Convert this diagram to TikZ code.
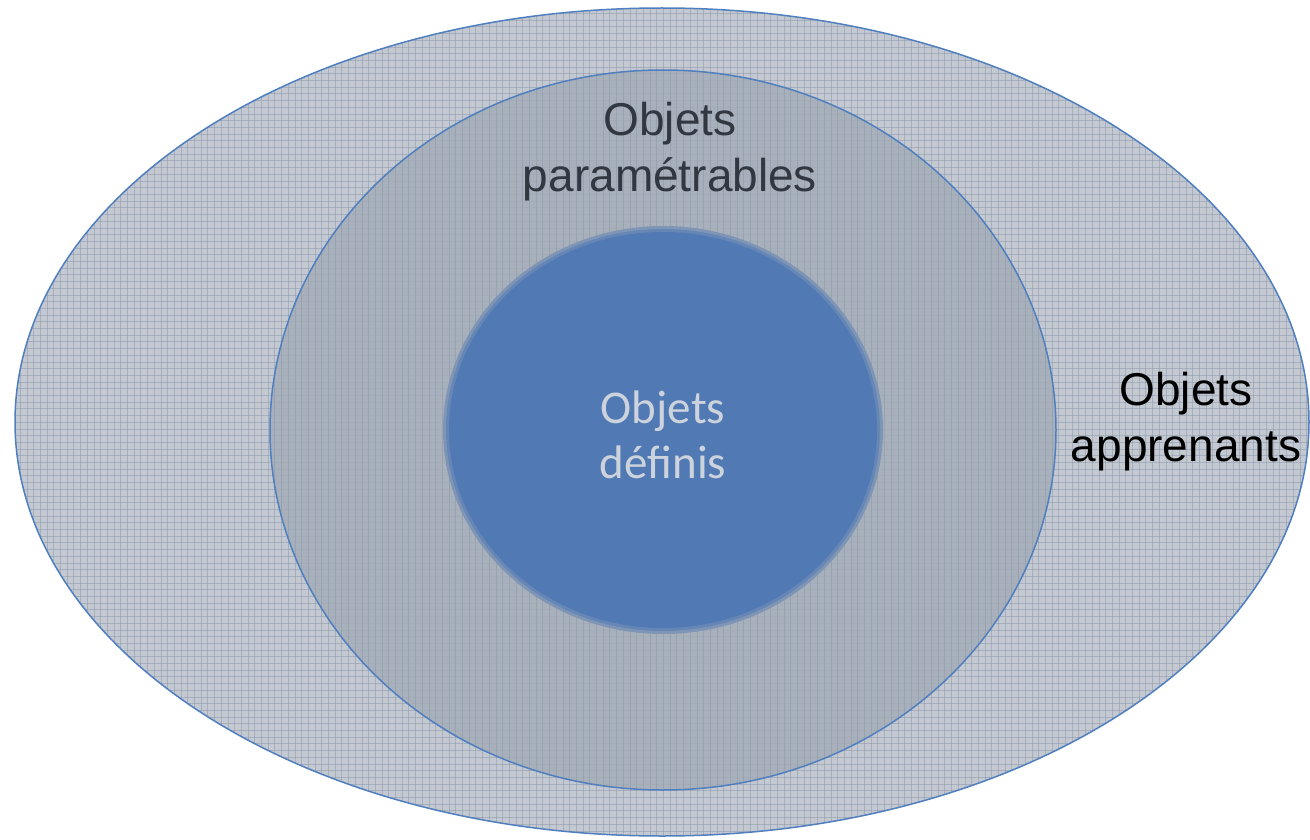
\documentclass[tikz,border=0pt]{standalone}
\usepackage{fontspec}
\usetikzlibrary{shapes.geometric}
\setmainfont{Liberation Sans}
\newfontfamily\calib{Carlito}
\begin{document}
\begin{tikzpicture}[x=1pt,y=-1pt,
  ring/.style={draw=edgeblue, line width=1.5pt},
  gridlines/.style={draw=gridcol, line width=0.6pt, opacity=0.55},
  labeltext/.style={align=center, font=\fontsize{46}{56}\selectfont, inner sep=0pt}]
\definecolor{edgeblue}{HTML}{4F7FBF}
\definecolor{outerfill}{HTML}{C4C9D1}
\definecolor{midfill}{HTML}{A4ACB8}
\definecolor{innerfill}{HTML}{5179B4}
\definecolor{gridcol}{HTML}{8E9AAE}
\definecolor{darktext}{HTML}{323842}
\definecolor{lighttext}{HTML}{CDD3DC}
\useasboundingbox (0,0) rectangle (1310,840);
% outer ellipse
\fill[outerfill] (662,422) ellipse [x radius=647, y radius=414];
\begin{scope}
  \clip (662,422) ellipse [x radius=647, y radius=414];
  \foreach \i in {0,...,196} {
    \draw[gridlines] (\i*6.7,0) -- (\i*6.7,840);
  }
  \foreach \j in {0,...,126} {
    \draw[gridlines] (0,\j*6.7) -- (1310,\j*6.7);
  }
\end{scope}
\node[ring, ellipse, minimum width=1294pt, minimum height=828pt, inner sep=0pt] (outer) at (662,422) {};
% middle ellipse
\fill[midfill, opacity=0.85] (663,430) ellipse [x radius=393, y radius=360];
\begin{scope}
  \clip (663,430) ellipse [x radius=393, y radius=360];
  \foreach \i in {0,...,196} {
    \draw[gridlines] (\i*6.7,0) -- (\i*6.7,840);
  }
\end{scope}
\node[ring, ellipse, minimum width=786pt, minimum height=720pt, inner sep=0pt] (mid) at (663,430) {};
% inner ellipse with soft edge
\fill[innerfill!45!midfill] (663,430) ellipse [x radius=220, y radius=204];
\fill[innerfill!75!midfill] (663,430) ellipse [x radius=217, y radius=201];
\node[fill=innerfill, ellipse, minimum width=428pt, minimum height=396pt, inner sep=0pt] (inner) at (663,430) {};
% labels
\node[labeltext, text=darktext] (lblpar) at (670,152) {Objets\\param\'etrables};
\node[labeltext, text=lighttext, font=\calib\fontsize{47}{55}\selectfont] (lbldef) at (663,435) {Objets\\d\'efinis};
\node[labeltext, text=black] (lblapp) at (1186,422) {Objets\\apprenants};
\end{tikzpicture}
\end{document}
